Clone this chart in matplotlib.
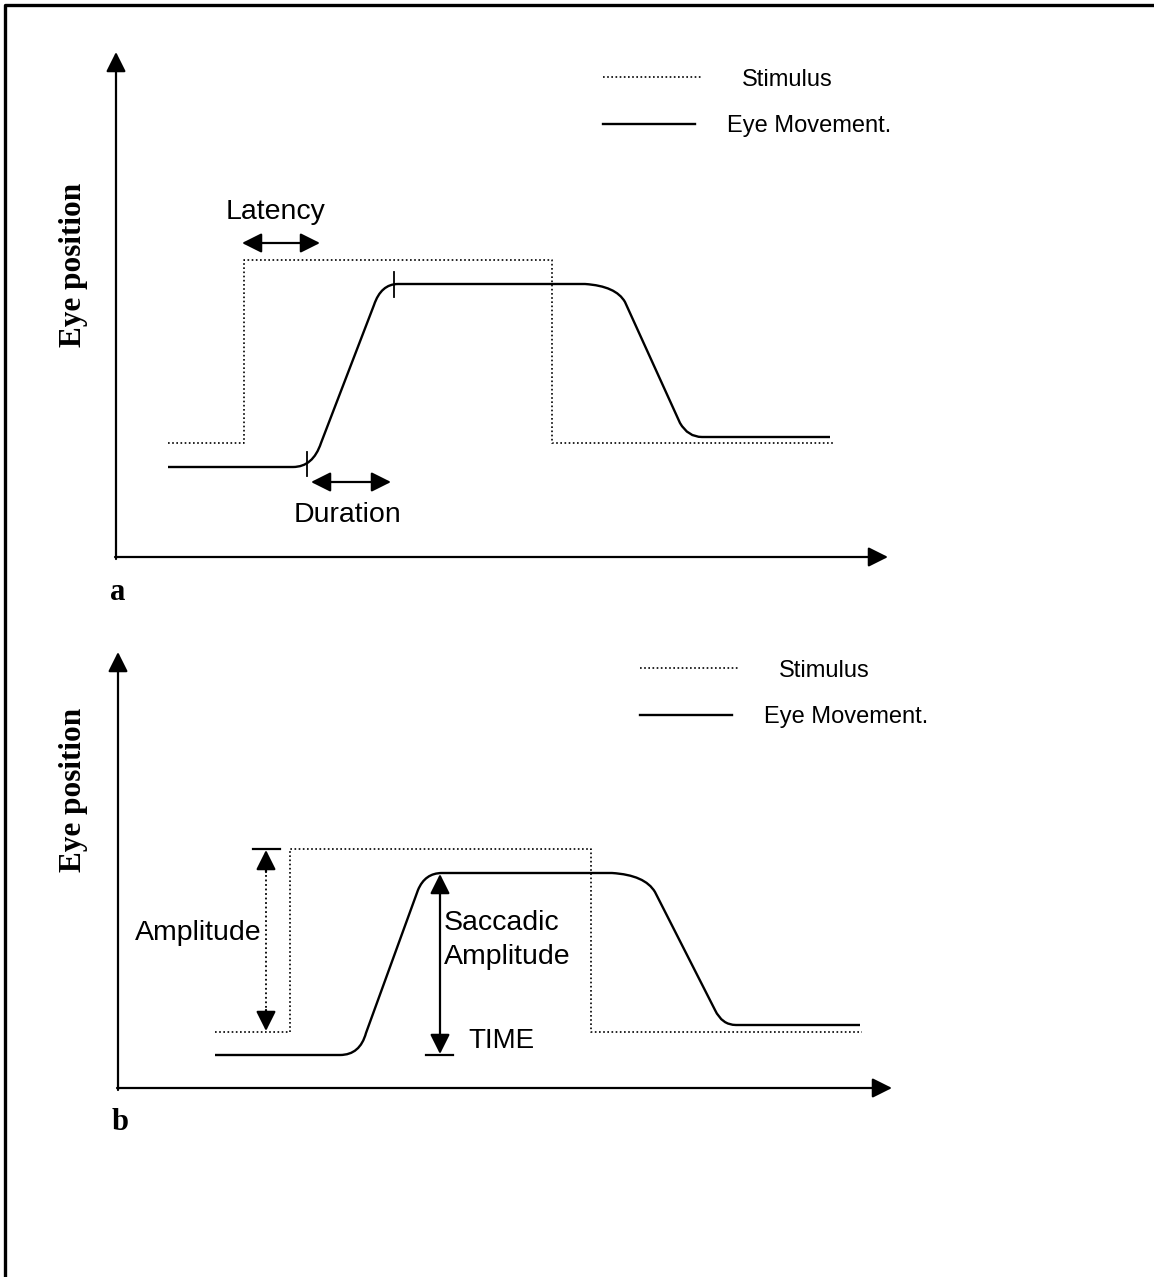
import matplotlib
matplotlib.use("Agg")
import matplotlib.pyplot as plt
from matplotlib.path import Path
from matplotlib.patches import PathPatch

# panel a: stimulus step and eye trace (page pixels, y down)
stim_a_x = [168, 244, 244, 552, 552, 833]
stim_a_y = [443, 443, 260, 260, 443, 443]
eye_a = [(168, 467), (293, 467), (313, 467), (321, 443), (374, 305), (381, 284),
         (398, 284), (585, 284), (616, 286), (625, 302), (680, 423), (688, 437),
         (702, 437), (830, 437)]

# panel b
stim_b_x = [215, 290, 290, 591, 591, 862]
stim_b_y = [1032, 1032, 849, 849, 1032, 1032]
eye_b = [(215, 1055), (340, 1055), (360, 1055), (366, 1033), (418, 890), (425, 873),
         (442, 873), (612, 873), (645, 875), (655, 892), (715, 1010), (722, 1025),
         (736, 1025), (860, 1025)]
codes = [Path.MOVETO, Path.LINETO, Path.CURVE3, Path.CURVE3, Path.LINETO,
         Path.CURVE3, Path.CURVE3, Path.LINETO, Path.CURVE3, Path.CURVE3,
         Path.LINETO, Path.CURVE3, Path.CURVE3, Path.LINETO]

sans = "Liberation Sans"
serif = "Liberation Serif"
dot = (0, (1, 1.5))

fig = plt.figure(figsize=(11.54, 12.77), dpi=100)
ax = fig.add_axes([0, 0, 1, 1])
ax.set_xlim(0, 1154)
ax.set_ylim(1277, 0)
ax.axis("off")

# page frame (left and top only)
ax.plot([5, 5, 1154], [1277, 5, 5], color="black", lw=2.4, solid_capstyle="butt")


def arrow(x0, y0, x1, y1, style="-|>", ls="-"):
    ax.annotate("", xy=(x1, y1), xytext=(x0, y0),
                arrowprops=dict(arrowstyle=style, color="black", lw=1.6,
                                mutation_scale=30, shrinkA=0, shrinkB=0, linestyle=ls))


def panel(stim_x, stim_y, eye, ox, oy, ytop, xright, letter, leg_x, leg_y, label_y):
    ax.plot(stim_x, stim_y, color="black", lw=1.2, linestyle=dot)
    ax.add_patch(PathPatch(Path(eye, codes), fill=False, lw=1.7, color="black"))
    # axes arrows
    arrow(ox, oy + 2, ox, ytop)
    arrow(ox - 1, oy, xright, oy)
    ax.text(ox + 2, oy + 35, letter, family=serif, fontweight="bold", fontsize=22,
            ha="center", va="center")
    ax.text(73, label_y, "Eye position", family=serif, fontweight="bold", fontsize=22.5,
            rotation=90, ha="center", va="center")
    # legend
    ax.plot([leg_x, leg_x + 100], [leg_y, leg_y], color="black", lw=1.2, linestyle=dot)
    ax.plot([leg_x, leg_x + 92], [leg_y + 47, leg_y + 47], color="black", lw=1.7)
    ax.text(leg_x + 139, leg_y + 3, "Stimulus", family=sans, fontsize=17,
            ha="left", va="center")
    ax.text(leg_x + 124, leg_y + 49, "Eye Movement.", family=sans, fontsize=17,
            ha="left", va="center")


panel(stim_a_x, stim_a_y, eye_a, 116, 557, 52, 888, "a", 603, 77, 265)
panel(stim_b_x, stim_b_y, eye_b, 118, 1088, 652, 892, "b", 640, 668, 790)

# panel a annotations
ax.plot([307, 307], [452, 476], color="black", lw=1.3)
ax.plot([394, 394], [272, 297], color="black", lw=1.3)
arrow(242, 243, 320, 243, style="<|-|>")
arrow(311, 482, 391, 482, style="<|-|>")
ax.text(276, 212, "Latency", family=sans, fontsize=20.5, ha="center", va="center")
ax.text(347, 515, "Duration", family=sans, fontsize=20.5, ha="center", va="center")

# panel b annotations
ax.plot([266, 266], [866, 1015], color="black", lw=1.3, linestyle=dot)
arrow(266, 872, 266, 850)
arrow(266, 1010, 266, 1031)
ax.plot([253, 280], [849, 849], color="black", lw=1.6)
ax.text(262, 933, "Amplitude", family=sans, fontsize=20.5, ha="right", va="center")
arrow(440, 1054, 440, 874, style="<|-|>")
ax.plot([426, 453], [1055, 1055], color="black", lw=1.6)
ax.text(444, 940, "Saccadic\nAmplitude", family=sans, fontsize=20.5, ha="left",
        va="center", linespacing=1.4)
ax.text(501, 1041, "TIME", family=sans, fontsize=20, ha="center", va="center")

fig.savefig("out.png", dpi=100)
